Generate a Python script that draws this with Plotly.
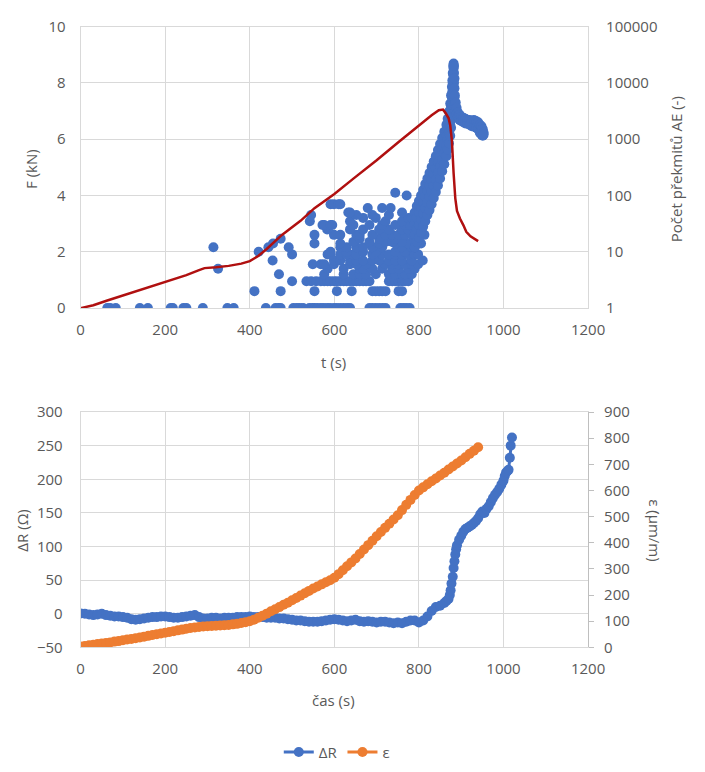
import plotly.graph_objects as go

# ---------------- Top chart data ----------------
# Force F (kN) vs time t (s)
F_T = [0, 30, 63, 100, 150, 201, 250, 280, 293, 320, 350, 380, 400, 420, 440, 476, 520, 553,
       600, 645, 700, 752, 800, 830, 847, 857, 863, 870, 874, 878, 882, 886, 890, 897, 905,
       912, 922, 935, 940]
F_KN = [0, 0.1, 0.27, 0.45, 0.67, 0.92, 1.17, 1.35, 1.42, 1.45, 1.5, 1.58, 1.67, 1.85, 2.1,
        2.6, 3.1, 3.55, 4.05, 4.6, 5.25, 5.9, 6.5, 6.85, 7.03, 7.05, 6.93, 6.75, 6.5, 5.95,
        4.8, 3.9, 3.45, 3.18, 2.95, 2.71, 2.55, 2.42, 2.38]

# AE overshoot counts (log axis): times grouped by count level
AE_LEVELS = {
    1: [63, 70, 83, 140, 159, 213, 218, 243, 250, 289, 347, 362, 438, 461, 468, 473, 503, 511,
        518, 526, 541, 548, 553, 560, 568, 575, 583, 590, 599, 606, 614, 622, 630, 637, 683,
        690, 698, 706, 714, 721, 756, 763, 770, 778],
    2: [411, 473, 553, 606, 641, 690, 698, 706, 713, 721, 752, 760],
    3: [500, 534, 545, 557, 568, 576, 584, 591, 599, 606, 614, 622, 629, 637, 645, 652, 660,
        668, 675, 683, 729, 737, 744, 752, 760, 767, 775],
    4: [469, 576, 622, 645, 660, 675, 698, 729, 744, 760, 767, 783],
    5: [325, 584, 622, 660, 668, 690, 713, 737, 752, 775, 790],
    6: [549, 568, 576, 599, 637, 652, 675, 721, 737, 752, 767, 783, 798],
    7: [454, 599, 614, 637, 652, 668, 690, 706, 729, 744, 760, 783, 809],
    9: [500, 584, 591, 614, 629, 645, 652, 690, 713, 729, 744, 760, 775, 790, 798],
    10: [421, 591, 629, 668, 698, 744, 767],
    12: [314, 444, 492, 614, 629, 652, 668, 690, 713, 752, 760, 783, 790],
    14: [455, 553, 614, 706, 744, 775, 805],
    15: [645, 683, 721, 737, 760, 790],
    17: [473, 660, 706, 744, 798],
    20: [553, 599, 614, 652, 660, 690, 721, 737, 752, 767, 783, 798, 813],
    25: [583, 637, 668, 706, 729, 760, 775, 790],
    30: [572, 576, 591, 595, 645, 683, 713, 744, 767, 779],
    35: [542, 637, 721, 760, 805],
    40: [668, 698, 775, 783],
    45: [545, 652, 690, 729, 798],
    50: [633, 637, 760, 813],
    60: [679, 713, 733, 820],
    70: [591, 599, 610, 614],
    85: [822],
    100: [771],
    112: [744],
}
# dense ramp / peak / post-peak band: time -> counts
AE_BAND_T = [790, 795, 800, 805, 810, 815, 820, 825, 830, 835, 840, 845, 850, 855, 860, 865,
             868, 871, 874, 876, 878, 879, 880, 881, 882, 883, 884, 885, 887, 889, 892, 896,
             900, 905, 910, 915, 920, 925, 930, 935, 940, 944, 948, 951, 953]
AE_BAND_N = [[12, 20, 32, 50], [15, 25, 40, 65], [18, 30, 50, 80], [22, 38, 60, 100],
             [28, 48, 75, 125], [35, 60, 95, 160], [45, 75, 120, 200], [55, 95, 150, 250],
             [70, 120, 190, 320], [90, 150, 240, 400], [115, 190, 300, 500],
             [150, 250, 390, 640], [200, 330, 500, 820], [270, 430, 650, 1050],
             [360, 570, 850, 1350], [500, 780, 1150, 1800], [650, 1000, 1500, 2300],
             [850, 1300, 2000, 3100], [1150, 1800, 2800, 4300], [1600, 2500, 3800, 6000],
             [2300, 3600, 5500, 8500], [4000, 7000, 11000], [6000, 10000, 15000],
             [9000, 14000, 20000], [12000, 18000, 22000], [15000, 20000, 10000],
             [8000, 5500, 12000], [6000, 4200], [4500, 3200], [3600, 2800], [3000, 2500],
             [2700, 2200], [2500, 2100], [2400, 2000], [2300, 1900], [2200, 1900],
             [2200, 1800], [2100, 1700], [2200, 1700], [2100, 1600], [2000, 1500],
             [1800, 1300], [1700, 1200], [1500, 1150], [1300, 1200]]

# ---------------- Bottom chart data ----------------
DR_T = list(range(0, 860, 10)) + [860, 865, 870, 873, 875, 877, 880, 882, 884, 886, 888, 890,
                                  895, 900, 905, 910, 915, 920, 925, 930, 935, 940, 945, 950,
                                  955, 960, 965, 970, 975, 980, 985, 990, 995, 1000, 1003,
                                  1006, 1009, 1012, 1015, 1017, 1020]
DR_OHM = [0.5, 0, -1, -2, -1, 0, -2, -3, -4, -4, -5, -6, -8, -9, -8, -7, -6, -5, -5, -4,
          -4, -5, -6, -6, -5, -4, -3, -2, -5, -7, -7, -6, -6, -7, -6, -6, -6, -5, -5, -5,
          -4, -5, -5, -5, -6, -6, -6, -7, -7, -8, -9, -10, -10, -11, -12, -12, -12, -11, -10, -9,
          -8, -9, -10, -11, -10, -9, -11, -12, -11, -12, -13, -12, -12, -13, -14, -13, -14, -12,
          -10, -10, -13, -10, -4, 4, 10, 12,
          16, 19, 22, 28, 35, 45, 55, 68, 78, 88, 96, 102,
          110, 116, 122, 126, 128, 130, 132, 135, 138, 142, 148, 152,
          150, 156, 160, 166, 172, 177, 181, 186, 192, 198, 205,
          210, 212, 214, 232, 250, 262]

EPS_T = list(range(0, 950, 10))
EPS_UM = [3, 5, 8, 10, 13, 15, 17, 19, 22, 24, 27, 30, 32, 35, 38, 41, 44, 47, 50, 53,
          56, 59, 62, 65, 68, 71, 74, 76, 78, 80, 81, 82, 83, 84, 85, 86, 88, 90, 93, 96,
          100, 106, 113, 121, 129, 138, 146, 154, 163, 171, 180, 189, 198, 207, 216, 225, 233,
          241, 249, 257, 266, 280, 295, 310, 325, 340, 357, 374, 391, 408, 425, 441, 457, 473,
          489, 505, 525, 545, 564, 583, 600, 612, 624, 635, 646, 657, 668, 680, 692, 703, 715,
          727, 740, 752, 765]

# ---------------- Build traces ----------------
ae_t, ae_n = [], []
for n, ts in AE_LEVELS.items():
    for t in ts:
        ae_t.append(t)
        ae_n.append(n)
for t, ns in zip(AE_BAND_T, AE_BAND_N):
    for n in ns:
        ae_t.append(t)
        ae_n.append(n)

BLUE = "#4472C4"
ORANGE = "#ED7D31"
RED = "#B01010"
GRID = "#D9D9D9"
TXT = "#595959"
FONT = "Open Sans"

fig = go.Figure()
fig.add_trace(go.Scatter(x=ae_t, y=ae_n, mode="markers", xaxis="x", yaxis="y",
                         marker=dict(color=BLUE, size=10), showlegend=False))
fig.add_trace(go.Scatter(x=F_T, y=F_KN, mode="lines", xaxis="x", yaxis="y2",
                         line=dict(color=RED, width=2.5), showlegend=False))
fig.add_trace(go.Scatter(x=DR_T, y=DR_OHM, mode="lines+markers", xaxis="x2", yaxis="y3",
                         name="ΔR", line=dict(color=BLUE, width=3),
                         marker=dict(color=BLUE, size=10)))
fig.add_trace(go.Scatter(x=EPS_T, y=EPS_UM, mode="lines+markers", xaxis="x2", yaxis="y4",
                         name="ε", line=dict(color=ORANGE, width=3),
                         marker=dict(color=ORANGE, size=10)))

W, H = 705, 772
xd = [79 / W, 602 / W]
top_d = [1 - 305 / H, 1 - 16 / H]
bot_d = [1 - 653.3 / H, 1 - 411.7 / H]
tf = dict(family=FONT, size=15, color=TXT)

common_x = dict(range=[0, 1200], dtick=200, showgrid=True, gridcolor=GRID, gridwidth=1,
                zeroline=False, showline=True, linecolor=GRID, mirror=True, ticks="",
                tickfont=tf, domain=xd, ticklabelstandoff=8)

fig.update_layout(
    width=W, height=H, margin=dict(l=0, r=0, t=0, b=0),
    paper_bgcolor="white", plot_bgcolor="white",
    font=dict(family=FONT, size=15, color=TXT),
    xaxis=dict(anchor="y", **common_x),
    yaxis=dict(type="log", range=[0, 5], side="right", domain=top_d, anchor="x",
               tickvals=[1, 10, 100, 1000, 10000, 100000],
               ticktext=["1", "10", "100", "1000", "10000", "100000"],
               showgrid=True, gridcolor=GRID, zeroline=False, showline=True, linecolor=GRID,
               mirror=True, ticks="", tickfont=tf, ticklabelstandoff=14),
    yaxis2=dict(range=[0, 10], dtick=2, side="left", overlaying="y", anchor="x",
                showgrid=False, zeroline=False, showline=False, ticks="", tickfont=tf,
                ticklabelstandoff=14),
    xaxis2=dict(anchor="y3", **common_x),
    yaxis3=dict(range=[-50, 300], dtick=50, side="left", domain=bot_d, anchor="x2",
                showgrid=True, gridcolor=GRID, zeroline=False, showline=True, linecolor=GRID,
                ticks="", tickfont=tf, ticklabelstandoff=14),
    yaxis4=dict(range=[0, 900], dtick=100, side="right", overlaying="y3", anchor="x2",
                showgrid=False, zeroline=False, showline=True, linecolor="#BFBFBF",
                ticks="outside", ticklen=5, tickcolor="#BFBFBF", tickfont=tf,
                ticklabelstandoff=7),
    legend=dict(orientation="h", x=343 / W, xanchor="center", y=1 - 761 / H,
                yanchor="middle", font=tf, bgcolor="rgba(0,0,0,0)"),
)

ann = [
    dict(text="F (kN)", x=28 / W, y=1 - 162 / H, textangle=-90),
    dict(text="Počet překmitů AE (-)", x=692 / W, y=1 - 162 / H, textangle=-90),
    dict(text="t (s)", x=340 / W, y=1 - 360 / H, textangle=0),
    dict(text="ΔR (Ω)", x=19 / W, y=1 - 533 / H, textangle=-90),
    dict(text="ε (µm/m)", x=671 / W, y=1 - 533 / H, textangle=90),
    dict(text="čas (s)", x=340 / W, y=1 - 707 / H, textangle=0),
]
for a in ann:
    fig.add_annotation(xref="paper", yref="paper", showarrow=False, font=tf,
                       xanchor="center", yanchor="middle", **a)

POST = """
var s = document.createElement('style');
s.textContent = 'html,body{margin:0;padding:0;overflow:hidden;width:705px;height:772px;}'
  + '.plotly-graph-div{position:absolute !important;left:0;top:0;}';
document.head.appendChild(s);
"""

fig.write_html("out.html", config={"displayModeBar": False, "responsive": False},
               post_script=POST)
